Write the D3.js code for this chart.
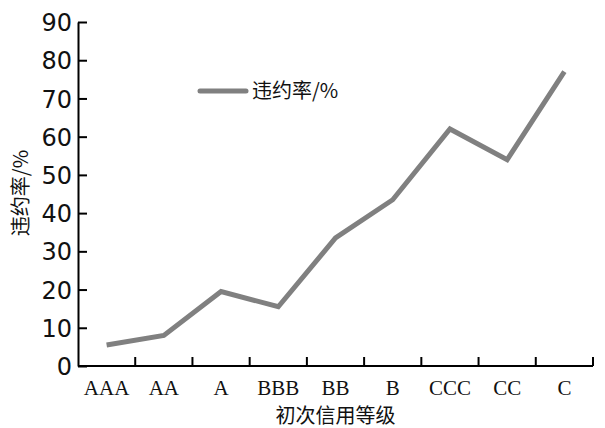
<!DOCTYPE html>
<html>
<head>
<meta charset="utf-8">
<script src="https://cdn.jsdelivr.net/npm/d3@7"></script>
<style>
  html, body { margin: 0; padding: 0; background: #fff; }
  svg { display: block; }
</style>
</head>
<body>
<svg id="chart" width="605" height="428"></svg>
<script>
// Credit grades and default rate (%) per initial grade
const grades = ["AAA", "AA", "A", "BBB", "BB", "B", "CCC", "CC", "C"];
const defaultRate = [5.5, 8, 19.5, 15.5, 33.5, 43.5, 62, 54, 77];
const yTicks = [0, 10, 20, 30, 40, 50, 60, 70, 80, 90];
const seriesName = "违约率/%";
const xTitle = "初次信用等级";
const yTitle = "违约率/%";

const svg = d3.select("#chart");
const plotLeft = 78, plotRight = 593, plotTop = 22, plotBottom = 366;

const x = d3.scaleBand().domain(grades).range([plotLeft, plotRight]).padding(0);
const y = d3.scaleLinear().domain([0, 90]).range([plotBottom, plotTop]);

const lineColor = "#808080";
const sansCJK = "'Noto Sans CJK SC', 'Noto Sans', sans-serif";

// y axis: ticks point inward (to the right)
const yAxis = svg.append("g")
  .attr("transform", `translate(${plotLeft},0)`)
  .call(d3.axisLeft(y).tickValues(yTicks).tickSize(-9).tickPadding(6).tickSizeOuter(0));
yAxis.select(".domain").attr("stroke", "#000").attr("stroke-width", 2);
yAxis.selectAll(".tick line").attr("stroke", "#000").attr("stroke-width", 2);
yAxis.selectAll(".tick text")
  .attr("fill", "#111")
  .style("font-family", "'DejaVu Sans', sans-serif")
  .style("font-size", "24px")
  .attr("dy", "0.36em");

// x axis: tick marks on band boundaries, pointing up
const xAxis = svg.append("g")
  .attr("transform", `translate(0,${plotBottom})`);
xAxis.append("line")
  .attr("x1", plotLeft).attr("x2", plotRight)
  .attr("y1", 0).attr("y2", 0)
  .attr("stroke", "#000").attr("stroke-width", 2);
xAxis.selectAll("line.tick")
  .data(grades)
  .join("line")
  .attr("class", "tick")
  .attr("x1", d => x(d) + x.bandwidth())
  .attr("x2", d => x(d) + x.bandwidth())
  .attr("y1", 0).attr("y2", -9)
  .attr("stroke", "#000").attr("stroke-width", 2);
xAxis.selectAll("text.lab")
  .data(grades)
  .join("text")
  .attr("class", "lab")
  .attr("x", d => x(d) + x.bandwidth() / 2)
  .attr("y", 29)
  .attr("text-anchor", "middle")
  .attr("fill", "#111")
  .style("font-family", "'Liberation Serif', 'Times New Roman', serif")
  .style("font-size", "21px")
  .text(d => d);

// Default rate line
const line = d3.line()
  .x((d, i) => x(grades[i]) + x.bandwidth() / 2)
  .y(d => y(d));
svg.append("path")
  .datum(defaultRate)
  .attr("d", line)
  .attr("fill", "none")
  .attr("stroke", lineColor)
  .attr("stroke-width", 5)
  .attr("stroke-linejoin", "miter");

// Legend
const legend = svg.append("g").attr("transform", "translate(200,91)");
legend.append("line")
  .attr("x1", 0).attr("x2", 46).attr("y1", 0).attr("y2", 0)
  .attr("stroke", lineColor).attr("stroke-width", 5).attr("stroke-linecap", "round");
legend.append("text")
  .attr("x", 52).attr("y", 0).attr("dy", "0.36em")
  .attr("fill", "#111")
  .style("font-family", sansCJK)
  .style("font-size", "20px")
  .text(seriesName);

// Axis titles
svg.append("text")
  .attr("x", (plotLeft + plotRight) / 2)
  .attr("y", 423)
  .attr("text-anchor", "middle")
  .attr("fill", "#111")
  .style("font-family", sansCJK)
  .style("font-size", "20px")
  .text(xTitle);

svg.append("text")
  .attr("transform", "translate(28,193) rotate(-90)")
  .attr("text-anchor", "middle")
  .attr("fill", "#111")
  .style("font-family", sansCJK)
  .style("font-size", "20px")
  .text(yTitle);
</script>
</body>
</html>
